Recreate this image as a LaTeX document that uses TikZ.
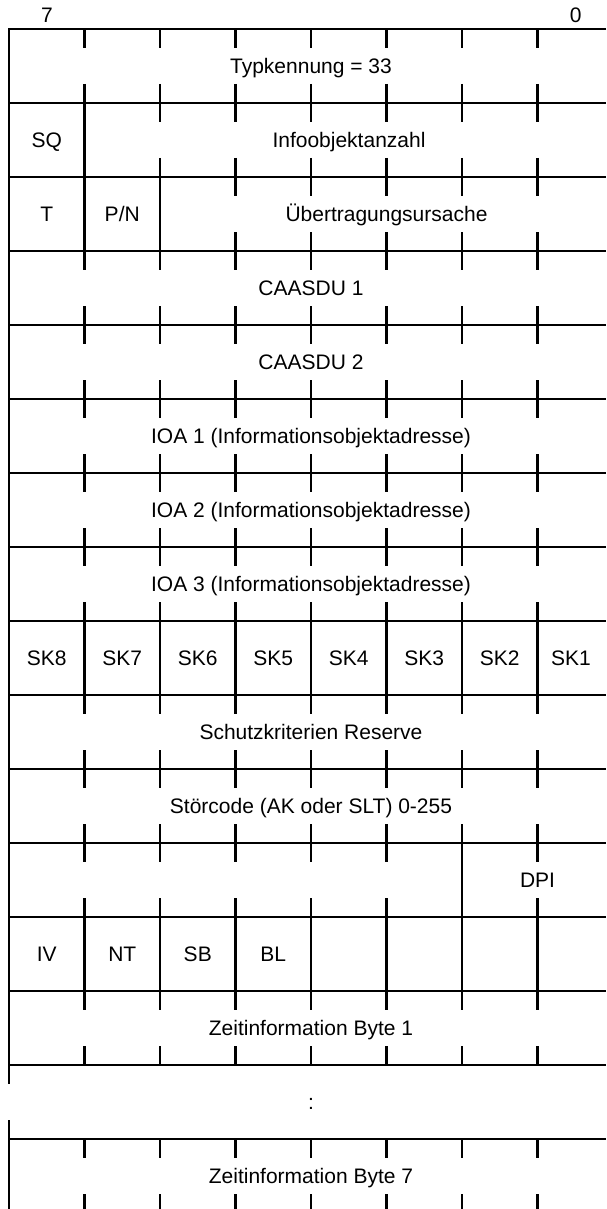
\documentclass[tikz,border=0pt]{standalone}
\usepackage{fontspec}
\setmainfont{Liberation Sans}
\begin{document}
\begin{tikzpicture}[x=1pt,y=-1pt,line width=2.2pt,
  lbl/.style={font=\fontsize{21}{25}\selectfont,anchor=base,inner sep=0pt}]
\useasboundingbox (0,0) rectangle (606,1209);
\clip (0,0) rectangle (606,1209);
% bit numbers
\node[lbl] (b7) at (47,22.5) {7};
\node[lbl] (b0) at (575.75,22.5) {0};
% frame: top line and left edge
\draw (606,29) -- (9,29) -- (9,1084);
\draw (9,1120) -- (9,1209);
% horizontal row lines
\foreach \k in {1,...,15}{
  \pgfmathsetmacro\yy{29+74*\k}
  \draw (9,\yy) -- (606,\yy);
}
% ticks
\foreach \k in {0,...,13,15}{
  \pgfmathsetmacro\yy{29+74*\k}
  \foreach \j in {1,...,7}{
    \pgfmathsetmacro\xx{9+75.5*\j}
    \draw (\xx,\yy) -- ++(0,19);
    \draw (\xx,\yy+55) -- ++(0,19);
  }
}
% full separators
\foreach \k/\j in {1/1,2/1,2/2,8/1,8/2,8/3,8/4,8/5,8/6,8/7,11/6,12/1,12/2,12/3,12/4,12/5,12/6,12/7}{
  \pgfmathsetmacro\yy{29+74*\k}
  \pgfmathsetmacro\xx{9+75.5*\j}
  \draw (\xx,\yy) -- ++(0,74);
}
% texts (baseline = row centre + 7.5)
\node[lbl] (typ) at (311,73.5) {Typkennung = 33};
\node[lbl] (sq) at (46.75,147.5) {SQ};
\node[lbl] (ioanz) at (349,147.5) {Infoobjektanzahl};
\node[lbl] (t) at (46.75,221.5) {T};
\node[lbl] (pn) at (122.25,221.5) {P/N};
\node[lbl] (cot) at (386.5,221.5) {Übertragungsursache};
\node[lbl] (ca1) at (311,295.5) {CAASDU 1};
\node[lbl] (ca2) at (311,369.5) {CAASDU 2};
\node[lbl] (ioa1) at (311,443.5) {IOA 1 (Informationsobjektadresse)};
\node[lbl] (ioa2) at (311,517.5) {IOA 2 (Informationsobjektadresse)};
\node[lbl] (ioa3) at (311,591.5) {IOA 3 (Informationsobjektadresse)};
\foreach \i/\s in {0/8,1/7,2/6,3/5,4/4,5/3,6/2}{
  \node[lbl] (sk\s) at (46.75+75.5*\i,665.5) {SK\s};
}
\node[lbl] (sk1) at (571,665.5) {SK1};
\node[lbl] (skr) at (311,739.5) {Schutzkriterien Reserve};
\node[lbl] (stc) at (311,813.5) {Störcode (AK oder SLT) 0-255};
\node[lbl] (dpi) at (537.5,887.5) {DPI};
\node[lbl] (iv) at (46.75,961.5) {IV};
\node[lbl] (nt) at (122.25,961.5) {NT};
\node[lbl] (sb) at (197.75,961.5) {SB};
\node[lbl] (bl) at (273.25,961.5) {BL};
\node[lbl] (z1) at (311,1035.5) {Zeitinformation Byte 1};
\node[lbl] (dots) at (311,1109.5) {:};
\node[lbl] (z7) at (311,1183.5) {Zeitinformation Byte 7};
\end{tikzpicture}
\end{document}
